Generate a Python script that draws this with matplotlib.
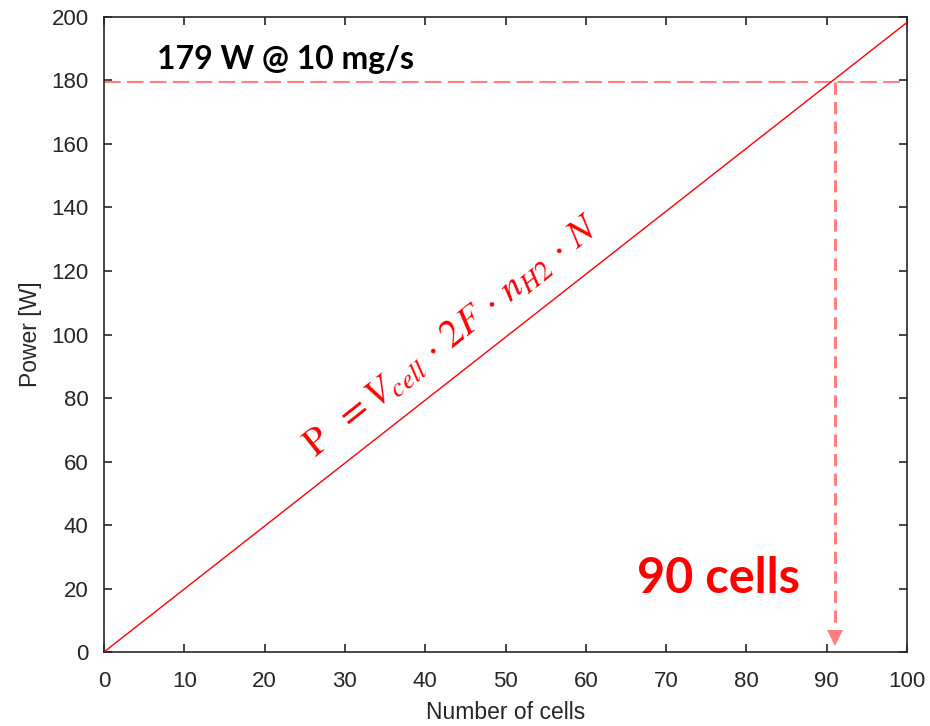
import matplotlib
matplotlib.use("Agg")
import matplotlib.pyplot as plt
import numpy as np

# data
n_cells = [0, 100]
power_w = [0, 198.3]
power_target = 179.6
cells_needed = 91
x_ticks = list(range(0, 101, 10))
y_ticks = list(range(0, 201, 20))

plt.rcParams['font.family'] = ['Liberation Sans', 'DejaVu Sans']
plt.rcParams['mathtext.fontset'] = 'stix'

fig = plt.figure(figsize=(9.3, 7.26), dpi=100)
ax = fig.add_axes([0.1118, 0.1019, 0.8635, 0.8747])

ax.plot(n_cells, power_w, color='red', lw=1.0, zorder=3)

pink = '#FF7F7F'
ax.axhline(power_target, color=pink, lw=1.5, dashes=(8, 3), zorder=2)
ax.plot([cells_needed, cells_needed], [power_target, 8], color=pink,
        lw=2.2, dashes=(4, 2.4), zorder=2)
ax.plot([cells_needed], [4.5], marker='v', markersize=11, color=pink,
        markeredgewidth=0, zorder=2)

ax.set_xlim(0, 100)
ax.set_ylim(0, 200)
ax.set_xticks(x_ticks)
ax.set_yticks(y_ticks)
ax.tick_params(direction='in', length=6, width=1.2, labelsize=16,
               top=True, right=True, colors='#262626')
ax.tick_params(axis='x', pad=14)
ax.tick_params(axis='y', pad=11)
for s in ax.spines.values():
    s.set_color('#262626')
    s.set_linewidth(1.2)

ax.set_xlabel('Number of cells', fontsize=16.5, color='#262626', labelpad=6)
ax.set_ylabel('Power [W]', fontsize=16.5, color='#262626', labelpad=7)

ax.text(6.6, 186.5, '179 W @ 10 mg/s', fontsize=23, fontweight='bold',
        family=['Lato', 'DejaVu Sans'], va='center', ha='left', color='black')
ax.text(66.4, 23.0, '90 cells', fontsize=35, fontweight='bold',
        family=['Lato', 'DejaVu Sans'], va='center', ha='left', color='red')

ax.text(26.3, 61, r'$\mathrm{P}\ \ = V_{cell} \,\cdot\, 2F \,\cdot\, n_{H2} \,\cdot\, N$',
        fontsize=28, color='red', rotation=38.5, rotation_mode='anchor',
        ha='left', va='baseline')

fig.savefig('out.png', dpi=100)
